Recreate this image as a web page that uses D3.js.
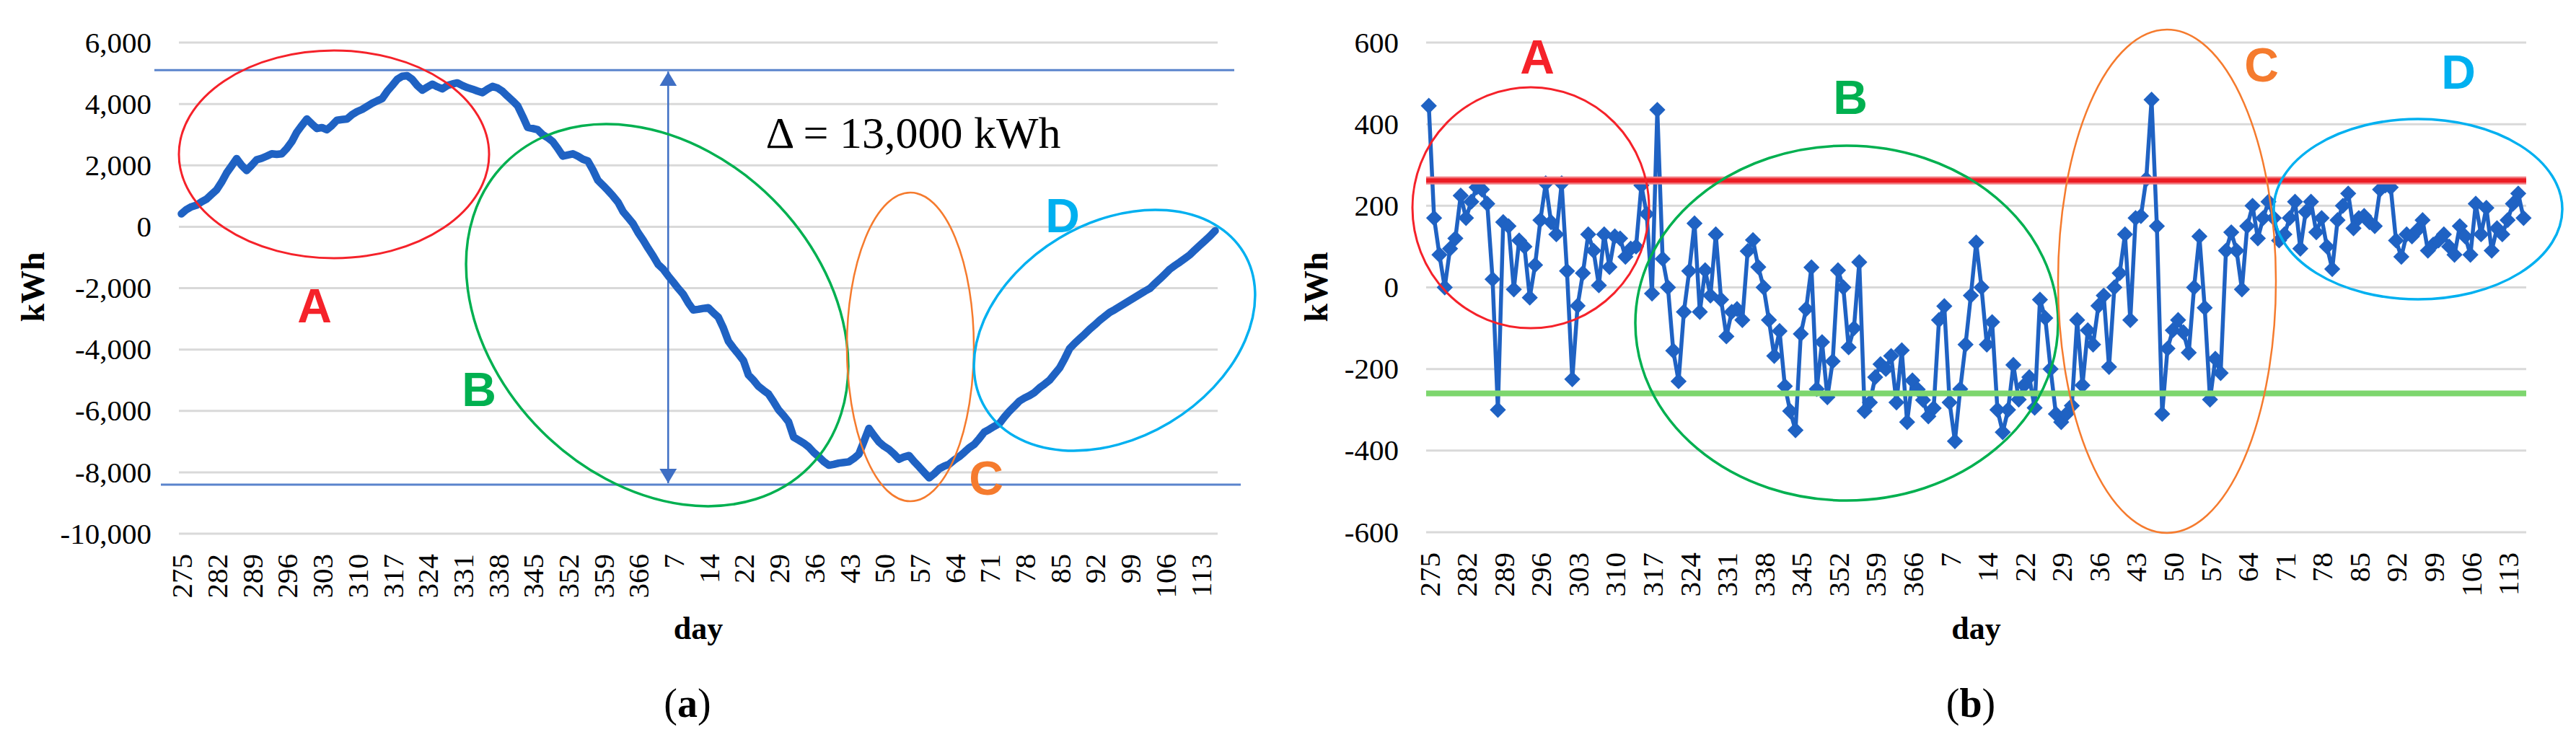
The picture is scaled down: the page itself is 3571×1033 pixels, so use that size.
<!DOCTYPE html>
<html>
<head>
<meta charset="utf-8">
<script src="https://cdnjs.cloudflare.com/ajax/libs/d3/7.8.5/d3.min.js"></script>
<style>
    body { margin: 0; background: #fff; }
    svg { display: block; }
</style>
</head>
<body>
<div id="chart"></div>
<script>
// category axis labels (one every 7th day)
var dayLabels = ["275","282","289","296","303","310","317","324","331","338","345","352","359","366",
    "7","14","22","29","36","43","50","57","64","71","78","85","92","99","106","113"];

// (a) cumulative energy balance, kWh
var cumulative = [
    420, 560, 650, 700, 810, 900, 1050, 1200, 1450, 1750,
    1980, 2220, 2000, 1830, 2000, 2180, 2230, 2300, 2375, 2360,
    2375, 2550, 2770, 3080, 3300, 3510, 3350, 3200, 3230, 3160,
    3300, 3470, 3490, 3510, 3650, 3750, 3820, 3920, 4020, 4100,
    4175, 4410, 4600, 4800, 4900, 4920, 4800, 4600, 4450, 4550,
    4645, 4560, 4490, 4600, 4650, 4685, 4600, 4530, 4480, 4420,
    4370, 4480, 4570, 4520, 4410, 4250, 4100, 3940, 3600, 3235,
    3200, 3160, 3000, 2900, 2770, 2550, 2300, 2340, 2375, 2300,
    2200, 2140, 1850, 1510, 1350, 1180, 1000, 800, 495, 300,
    100, -190, -430, -700, -950, -1230, -1380, -1600, -1800, -2010,
    -2200, -2480, -2710, -2690, -2660, -2640, -2800, -2950, -3300, -3730,
    -3950, -4150, -4360, -4830, -5000, -5200, -5330, -5450, -5700, -5965,
    -6150, -6360, -6855, -6950, -7050, -7175, -7350, -7490, -7650, -7770,
    -7740, -7700, -7680, -7660, -7550, -7410, -7000, -6570, -6800, -7010,
    -7150, -7255, -7400, -7575, -7500, -7455, -7650, -7820, -8000, -8180,
    -8050, -7890, -7800, -7735, -7600, -7490, -7350, -7200, -7090, -6900,
    -6690, -6600, -6500, -6410, -6200, -6010, -5850, -5680, -5580, -5500,
    -5400, -5250, -5130, -5000, -4800, -4600, -4300, -3970, -3800, -3650,
    -3500, -3340, -3200, -3050, -2920, -2790, -2700, -2600, -2500, -2400,
    -2300, -2200, -2100, -2010, -1850, -1700, -1540, -1380, -1260, -1150,
    -1030, -910, -750, -600, -450, -300, -130
];

// (b) daily energy balance, kWh
var daily = [
    445, 170, 80, 0, 95, 120, 225, 170, 210, 245,
    240, 205, 20, -300, 160, 150, -5, 115, 100, -25,
    55, 165, 255, 160, 130, 255, 40, -225, -45, 35,
    130, 90, 5, 130, 50, 125, 120, 75, 95, 100,
    250, 180, -15, 435, 70, 0, -155, -230, -60, 40,
    157, -60, 42, -20, 130, -30, -120, -60, -53, -80,
    89, 116, 50, 0, -80, -168, -107, -242, -303, -350,
    -114, -53, 49, -249, -134, -269, -181, 42, 0, -147,
    -100, 62, -303, -282, -220, -188, -200, -168, -282, -154,
    -330, -228, -250, -276, -316, -296, -80, -46, -282, -377,
    -249, -140, -20, 110, 0, -140, -85, -300, -355, -300,
    -190, -275, -240, -220, -295, -30, -75, -200, -310, -330,
    -310, -290, -80, -240, -105, -140, -45, -20, -195, 0,
    35, 130, -80, 170, 175, 265, 460, 150, -310, -150,
    -105, -80, -110, -160, 0, 125, -50, -275, -175, -210,
    90, 135, 90, -5, 150, 200, 120, 170, 210, 170,
    115, 130, 170, 210, 95, 185, 210, 135, 170, 100,
    45, 165, 200, 230, 145, 170, 175, 160, 150, 240,
    250, 245, 115, 75, 130, 125, 140, 165, 90, 105,
    115, 130, 100, 80, 150, 125, 80, 205, 130, 195,
    90, 145, 130, 165, 205, 230, 170
];

var yTicksCum = [6000, 4000, 2000, 0, -2000, -4000, -6000, -8000, -10000];
var yTicksDaily = [600, 400, 200, 0, -200, -400, -600];

var cumHigh = 5100, cumLow = -8400;      // envelope lines on (a)
var arrowDay = 97;                        // where the delta arrow stands
var upperLimit = 262, lowerLimit = -260;  // control lines on (b)
var deltaText = "\u0394 = 13,000 kWh";

var W = 3571, H = 1033;
var blue = "#1f62c3",
    serif = '"Liberation Serif", "Times New Roman", Times, serif',
    sans = '"Liberation Sans", Arial, sans-serif';

var fmt = d3.formatLocale({decimal: ".", thousands: ",", grouping: [3], currency: ["", ""], minus: "-"}).format(",");

var svg = d3.select('#chart').append('svg')
    .attr('width', W)
    .attr('height', H);

svg.append('rect').attr('width', W).attr('height', H).attr('fill', '#fff');

var defs = svg.append('defs');
defs.append('marker')
    .attr('id', 'head')
    .attr('viewBox', '0 0 20 24')
    .attr('refX', 20)
    .attr('refY', 12)
    .attr('markerWidth', 20)
    .attr('markerHeight', 24)
    .attr('markerUnits', 'userSpaceOnUse')
    .attr('orient', 'auto-start-reverse')
    .append('path')
    .attr('d', 'M0,0 L20,12 L0,24 Z')
    .attr('fill', '#3f6fc4');

function drawPanel(p) {
    var g = svg.append('g');
    var n = p.values.length;

    var x = d3.scalePoint()
        .domain(d3.range(n))
        .range([p.left, p.right])
        .padding(0.5);

    var y = d3.scaleLinear()
        .domain([p.yTicks[p.yTicks.length - 1], p.yTicks[0]])
        .range([p.bottom, p.top]);

    // gridlines
    g.selectAll('line.grid')
        .data(p.yTicks)
        .enter()
        .append('line')
        .attr('class', 'grid')
        .attr('x1', p.left)
        .attr('x2', p.right)
        .attr('y1', function(d) { return y(d); })
        .attr('y2', function(d) { return y(d); })
        .attr('stroke', '#d9d9d9')
        .attr('stroke-width', 3);

    // y axis
    var ya = g.append('g')
        .attr('transform', 'translate(' + p.left + ',0)')
        .attr('font-family', serif)
        .call(d3.axisLeft(y).tickValues(p.yTicks).tickFormat(fmt).tickSize(0).tickPadding(38));
    ya.attr('font-family', serif);
    ya.select('.domain').remove();
    ya.selectAll('text')
        .style('font-family', serif)
        .style('font-size', '41px')
        .attr('fill', '#000');

    // x axis
    var xa = g.append('g')
        .attr('transform', 'translate(0,' + p.bottom + ')')
        .call(d3.axisBottom(x)
            .tickValues(d3.range(0, n, 7))
            .tickFormat(function(d) { return dayLabels[d / 7]; })
            .tickSize(0));
    xa.attr('font-family', serif);
    xa.select('.domain').remove();
    xa.selectAll('text')
        .attr('transform', 'rotate(-90)')
        .attr('text-anchor', 'end')
        .attr('x', -28)
        .attr('y', 0)
        .attr('dy', '0.35em')
        .style('font-family', serif)
        .style('font-size', '41px')
        .attr('fill', '#000');

    if (p.extras) p.extras(g, x, y);

    var line = d3.line()
        .x(function(d, i) { return x(i); })
        .y(function(d) { return y(d); });

    g.append('path')
        .datum(p.values)
        .attr('d', line)
        .attr('fill', 'none')
        .attr('stroke', blue)
        .attr('stroke-width', p.lineWidth)
        .attr('stroke-linejoin', 'round')
        .attr('stroke-linecap', 'round');

    if (p.markers) {
        var diamond = d3.symbol().type(d3.symbolSquare).size(250);
        g.selectAll('path.pt')
            .data(p.values)
            .enter()
            .append('path')
            .attr('class', 'pt')
            .attr('d', diamond)
            .attr('transform', function(d, i) {
                return 'translate(' + x(i) + ',' + y(d) + ') rotate(45)';
            })
            .attr('fill', blue);
    }

    if (p.after) p.after(g, x, y);

    // axis titles
    svg.append('text')
        .attr('transform', 'translate(' + p.kwhX + ',398) rotate(-90)')
        .attr('text-anchor', 'middle')
        .attr('dy', '0.35em')
        .style('font-family', serif)
        .style('font-size', '46px')
        .style('font-weight', 'bold')
        .text('kWh');

    svg.append('text')
        .attr('x', (p.left + p.right) / 2)
        .attr('y', 886)
        .attr('text-anchor', 'middle')
        .style('font-family', serif)
        .style('font-size', '44px')
        .style('font-weight', 'bold')
        .text('day');

    var cap = svg.append('text')
        .attr('x', p.capX)
        .attr('y', 994)
        .attr('text-anchor', 'middle')
        .style('font-family', serif)
        .style('font-size', '56px');
    cap.append('tspan').text('(');
    cap.append('tspan').style('font-weight', 'bold').text(p.cap);
    cap.append('tspan').text(')');

    // hand-drawn style region marks
    p.rings.forEach(function(r) {
        svg.append('ellipse')
            .attr('cx', 0).attr('cy', 0)
            .attr('rx', r.rx).attr('ry', r.ry)
            .attr('transform', 'translate(' + r.cx + ',' + r.cy + ') rotate(' + (r.rot || 0) + ')')
            .attr('fill', 'none')
            .attr('stroke', r.color)
            .attr('stroke-width', r.w);
        svg.append('text')
            .attr('x', r.lx)
            .attr('y', r.ly)
            .attr('text-anchor', 'middle')
            .style('font-family', sans)
            .style('font-weight', 'bold')
            .style('font-size', '66px')
            .attr('fill', r.color)
            .text(r.label);
    });
}

var red = "#f5222a", green = "#00b050", orange = "#f57b2e", cyan = "#00b0f0";

drawPanel({
    values: cumulative, yTicks: yTicksCum,
    left: 248, right: 1688, top: 59, bottom: 740,
    lineWidth: 10.5, markers: false,
    kwhX: 45, capX: 953, cap: 'a',
    extras: function(g, x, y) {
        g.selectAll('line.env')
            .data([[cumHigh, -34, 23], [cumLow, -25, 32]])
            .enter()
            .append('line')
            .attr('x1', function(d) { return 248 + d[1]; })
            .attr('x2', function(d) { return 1688 + d[2]; })
            .attr('y1', function(d) { return y(d[0]); })
            .attr('y2', function(d) { return y(d[0]); })
            .attr('stroke', '#5a84cc')
            .attr('stroke-width', 3);
        g.append('line')
            .attr('x1', x(arrowDay)).attr('x2', x(arrowDay))
            .attr('y1', y(cumHigh) + 2).attr('y2', y(cumLow) - 2)
            .attr('stroke', '#3f6fc4')
            .attr('stroke-width', 2.5)
            .attr('marker-start', 'url(#head)')
            .attr('marker-end', 'url(#head)');
        g.append('text')
            .attr('x', 1266)
            .attr('y', 205)
            .attr('text-anchor', 'middle')
            .style('font-family', serif)
            .style('font-size', '62px')
            .attr('fill', '#000')
            .text(deltaText);
    },
    rings: [
        {cx: 463, cy: 214, rx: 215, ry: 144, color: red, w: 3, label: 'A', lx: 436, ly: 447},
        {cx: 911, cy: 437, rx: 298, ry: 227, rot: 45, color: green, w: 3.5, label: 'B', lx: 664, ly: 563},
        {cx: 1262, cy: 481, rx: 88, ry: 214, color: orange, w: 2.5, label: 'C', lx: 1367, ly: 686},
        {cx: 1545, cy: 458, rx: 209, ry: 149, rot: -31, color: cyan, w: 3.5, label: 'D', lx: 1473, ly: 322}
    ]
});

drawPanel({
    values: daily, yTicks: yTicksDaily,
    left: 1977, right: 3502, top: 59, bottom: 738,
    lineWidth: 5.5, markers: true,
    kwhX: 1824, capX: 2732, cap: 'b',
    after: function(g, x, y) {
        g.append('line')
            .attr('x1', 1977).attr('x2', 3502)
            .attr('y1', y(upperLimit)).attr('y2', y(upperLimit))
            .attr('stroke', '#f07a80')
            .attr('stroke-width', 11);
        g.append('line')
            .attr('x1', 1977).attr('x2', 3502)
            .attr('y1', y(upperLimit)).attr('y2', y(upperLimit))
            .attr('stroke', '#ec1c24')
            .attr('stroke-width', 6);
        g.append('line')
            .attr('x1', 1977).attr('x2', 3502)
            .attr('y1', y(lowerLimit)).attr('y2', y(lowerLimit))
            .attr('stroke', '#7dd66e')
            .attr('stroke-width', 8);
    },
    rings: [
        {cx: 2122, cy: 288, rx: 164, ry: 167, color: red, w: 3, label: 'A', lx: 2131, ly: 102},
        {cx: 2560, cy: 448, rx: 293, ry: 246, color: green, w: 3.5, label: 'B', lx: 2565, ly: 158},
        {cx: 3004, cy: 390, rx: 151, ry: 349, color: orange, w: 2.5, label: 'C', lx: 3135, ly: 113},
        {cx: 3352, cy: 290, rx: 200, ry: 125, color: cyan, w: 3.5, label: 'D', lx: 3408, ly: 123}
    ]
});
</script>
</body>
</html>
